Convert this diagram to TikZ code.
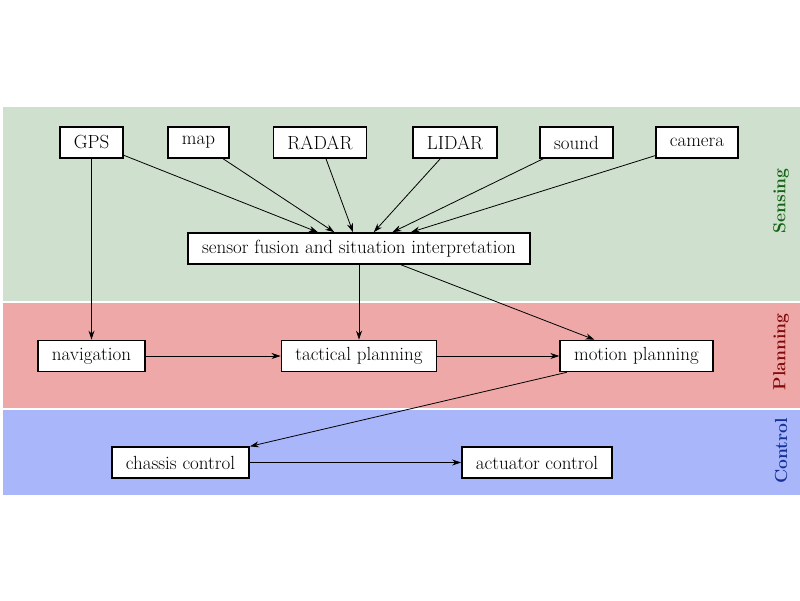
\documentclass[tikz,border=0pt]{standalone}
\usetikzlibrary{arrows.meta}

\definecolor{sensebg}{RGB}{207,224,207}
\definecolor{planbg}{RGB}{238,168,168}
\definecolor{ctrlbg}{RGB}{170,182,250}
\definecolor{sensefg}{RGB}{20,100,20}
\definecolor{planfg}{RGB}{130,10,10}
\definecolor{ctrlfg}{RGB}{20,50,150}

\begin{document}
\begin{tikzpicture}[x=1pt,y=-1pt,
    box/.style={draw,line width=1.6pt,fill=white,inner xsep=14pt,minimum height=31pt,
        font=\fontsize{19}{22}\selectfont},
    flow/.style={-{Stealth[length=9pt,width=6pt]},line width=0.8pt},
    layer/.style={rotate=90,font=\fontsize{17.5}{20}\selectfont\bfseries}]
\useasboundingbox (0,0) rectangle (800,600);

% Draw the three layers
\fill[sensebg] (3,107) rectangle (800,301);
\fill[planbg] (3,303) rectangle (800,408);
\fill[ctrlbg] (3,410) rectangle (800,495);

\node[layer,text=sensefg] (sensing) at (781,201) {Sensing};
\node[layer,text=planfg] (planning) at (781,352) {Planning};
\node[layer,text=ctrlfg] (control) at (781,451) {Control};

% Sensors
\node[box] (gps) at (91.5,142.5) {GPS};
\node[box] (map) at (198.5,142.5) {map};
\node[box] (radar) at (320,142.5) {RADAR};
\node[box] (lidar) at (455,142.5) {LIDAR};
\node[box] (sound) at (576.5,142.5) {sound};
\node[box] (camera) at (697,142.5) {camera};

\node[box] (fusion) at (359,248.5) {sensor fusion and situation interpretation};

% Planning and control
\node[box] (nav) at (91.5,356) {navigation};
\node[box] (tactical) at (359,356) {tactical planning};
\node[box] (motion) at (636.5,356) {motion planning};
\node[box] (chassis) at (180.5,462.5) {chassis control};
\node[box] (actuator) at (537,462.5) {actuator control};

% Every sensor feeds the fusion
\foreach \s in {gps,map,radar,lidar,sound,camera}
    \draw[flow] (\s) -- (fusion);

\draw[flow] (gps) -- (nav);
\draw[flow] (fusion) -- (tactical);
\draw[flow] (fusion) -- (motion);
\draw[flow] (nav) -- (tactical);
\draw[flow] (tactical) -- (motion);
\draw[flow] (motion) -- (chassis);
\draw[flow] (chassis) -- (actuator);

\end{tikzpicture}
\end{document}
